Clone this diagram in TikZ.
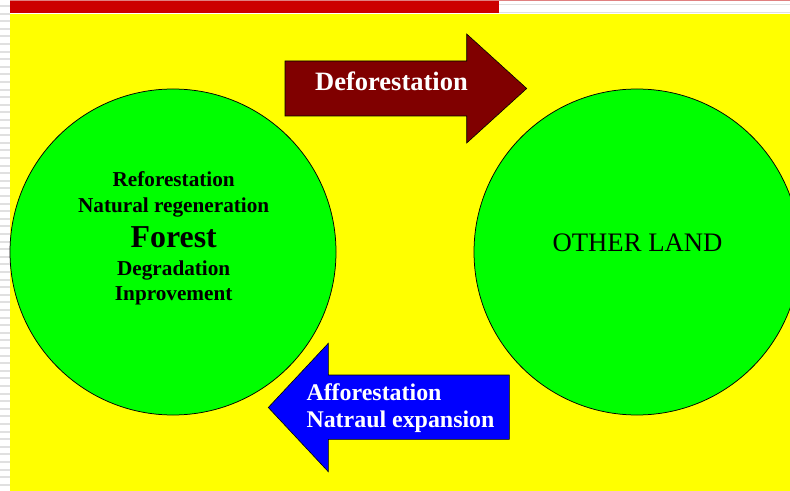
\documentclass[tikz,border=0pt]{standalone}
\usepackage{fontspec}
\setmainfont{Liberation Serif}
\definecolor{bgyellow}{HTML}{FFFF00}
\definecolor{lgreen}{HTML}{00FF00}
\definecolor{darkred}{HTML}{800000}
\definecolor{arrowblue}{HTML}{0000FF}
\definecolor{barred}{HTML}{CC0000}
\definecolor{barpink}{HTML}{E08080}
\definecolor{stripe}{HTML}{E0E0E0}
\begin{document}
\begin{tikzpicture}[x=1bp,y=-1bp,
  circ/.style={circle, draw=black, line width=0.75bp, fill=lgreen, minimum size=326bp, inner sep=0pt, outer sep=0pt},
  blockarrow/.style={draw=black, line width=0.6bp},
  lbl/.style={inner sep=0pt, anchor=base},
  arrowtxt/.style={inner sep=0pt, anchor=base west, text=white, font=\bfseries}]
\useasboundingbox (0,0) rectangle (790,491);
\fill[white] (0,0) rectangle (790,491);
\foreach \y in {5,12.6,...,491} \fill[stripe] (0,\y) rectangle (10,\y+2);
\fill[stripe] (499,4) rectangle (790,5.5);
\fill[stripe] (499,12) rectangle (790,13.5);
\fill[barpink] (10,0) rectangle (790,1.3);
\fill[barred] (10,1.3) rectangle (499,13);
\fill[bgyellow] (10,14) rectangle (790,491);

\node[circ] (forestc) at (173,252) {};
\node[circ] (otherc) at (637,252) {};

\fill[darkred, blockarrow] (285,61) -- (466.7,61) -- (466.7,34) -- (526.7,88.5) -- (466.7,143) -- (466.7,116) -- (285,116) -- cycle;
\fill[arrowblue, blockarrow] (509.3,375) -- (328.3,375) -- (328.3,343.3) -- (268.3,407.5) -- (328.3,471.7) -- (328.3,439.3) -- (509.3,439.3) -- cycle;

\node[arrowtxt, font=\fontsize{26.6}{30}\selectfont\bfseries] (defo) at (315,90.5) {Deforestation};
\node[arrowtxt, font=\fontsize{24}{27}\selectfont\bfseries] (affo) at (306.3,400.5) {Afforestation};
\node[arrowtxt, font=\fontsize{24}{27}\selectfont\bfseries] (natexp) at (306.3,427.8) {Natraul expansion};

\node[lbl, font=\fontsize{21.3}{24}\selectfont\bfseries] (refo) at (173.7,186.5) {Reforestation};
\node[lbl, font=\fontsize{21.3}{24}\selectfont\bfseries] (natreg) at (173.7,212.2) {Natural regeneration};
\node[lbl, font=\fontsize{32}{36}\selectfont\bfseries] (forest) at (173.7,247.8) {Forest};
\node[lbl, font=\fontsize{21.3}{24}\selectfont\bfseries] (degr) at (173.7,275.5) {Degradation};
\node[lbl, font=\fontsize{21.3}{24}\selectfont\bfseries] (inpr) at (173.7,300.5) {Inprovement};

\node[lbl, font=\fontsize{26.8}{30}\selectfont] (other) at (637.5,251.5) {OTHER LAND};
\end{tikzpicture}
\end{document}
